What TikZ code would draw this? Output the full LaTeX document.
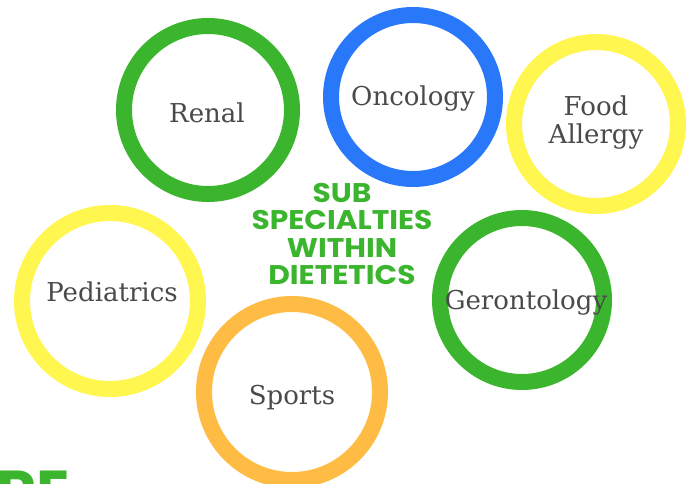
\documentclass[tikz,border=0pt]{standalone}
\usepackage{fontspec}
\setmainfont{DejaVu Serif}
\newfontfamily\titlefont{Poppins Bold}
\definecolor{ringgreen}{HTML}{3CB52E}
\definecolor{ringblue}{HTML}{2A78FA}
\definecolor{ringyellow}{HTML}{FFF64F}
\definecolor{ringorange}{HTML}{FFBC45}
\definecolor{labelgrey}{HTML}{4A4A4A}
\definecolor{titlegreen}{HTML}{3CB52E}
\begin{document}
\begin{tikzpicture}[x=1pt,y=-1pt,
  ringc/.style={draw=#1,line width=16pt,fill=white},
  lbl/.style={text=labelgrey,font=\fontsize{26}{28}\selectfont,align=center},
  ttl/.style={text=titlegreen,font=\titlefont\fontsize{27}{27.5}\selectfont,align=center,xscale=1.1,transform shape}]
\useasboundingbox (0,0) rectangle (688,484);
\begin{scope}
\clip (0,0) rectangle (688,484);
\draw[ringc=ringgreen] (208,110) circle (84);
\draw[ringc=ringblue] (413,97) circle (82);
\draw[ringc=ringyellow] (596,124) circle (82);
\draw[ringc=ringyellow] (110,301) circle (88);
\draw[ringc=ringgreen] (522,300) circle (82);
\draw[ringc=ringorange] (292,392) circle (88);
\node[anchor=north west,inner sep=0pt,text=titlegreen,font=\titlefont\fontsize{62}{64}\selectfont] (re) at (-4,471) {RE};
\end{scope}
\node[lbl] (renal) at (207,113) {Renal};
\node[lbl] (onco) at (413,99) {Oncology};
\node[lbl] (food) at (596,123) {Food\\Allergy};
\node[lbl] (ped) at (112,292) {Pediatrics};
\node[lbl] (ger) at (526,303) {Gerontology};
\node[lbl] (sports) at (292,398) {Sports};
\node[ttl] (title) at (342,234) {SUB\\SPECIALTIES\\WITHIN\\DIETETICS};
\end{tikzpicture}
\end{document}
